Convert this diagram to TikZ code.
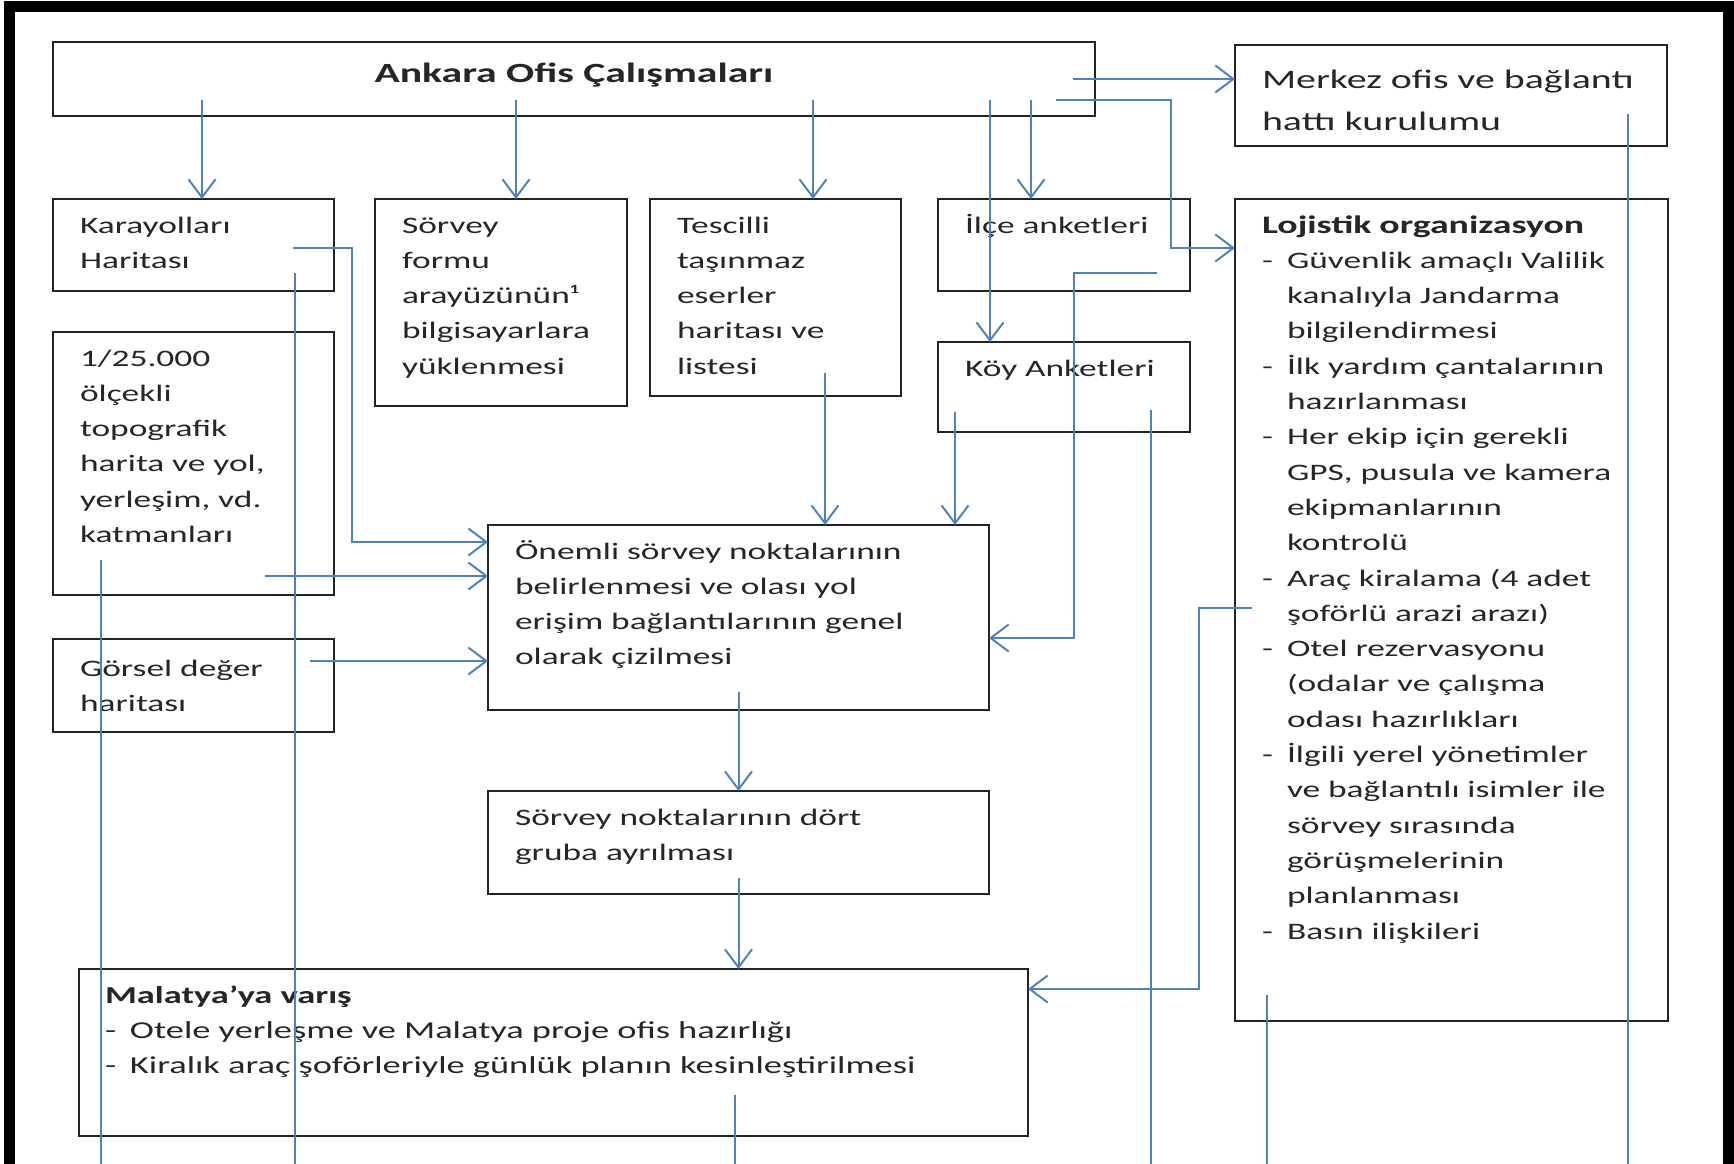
\documentclass[tikz,border=0pt]{standalone}
\usepackage{fontspec}
\setmainfont{Carlito}[FakeStretch=1.5]
\usetikzlibrary{arrows.meta,positioning,calc}
\definecolor{linkblue}{RGB}{79,129,189}
\definecolor{boxgray}{RGB}{35,35,35}
\newcommand{\itemdash}{\makebox[12.5pt][l]{-}}
\newcommand{\itemgap}{\hspace*{12.5pt}}

\begin{document}
\begin{tikzpicture}[x=0.5pt, y=-0.5pt,
    font=\fontsize{11.8pt}{17.65pt}\selectfont,
    box/.style={draw=boxgray, line width=1pt, anchor=north west, align=left, outer sep=0pt,
                inner xsep=13.5pt, inner ysep=0pt, text height=17pt, text=black!85},
    link/.style={draw=linkblue, line width=1pt},
    arrow/.style={link, -{Straight Barb[length=9pt, width=13.5pt]}}]
  \useasboundingbox (0,0) rectangle (1734,1163);
  \clip (0,0) rectangle (1734,1163);
  \draw[line width=5.5pt] (9,1200) |- (1728,6) -- (1728,1200);

  \node[box, align=center, text width=494pt, text height=20pt, text depth=17pt,
        font=\fontsize{13.9pt}{17pt}\selectfont\bfseries] (ankara) at (53,42)
    {Ankara Ofis Çalışmaları};
  \node[box, text width=113.5pt, text depth=29pt,
        below=41.5pt of ankara.south west, anchor=north west] (kara)
    {Karayolları\\Haritası};
  \node[box, text width=99pt, text depth=86.5pt,
        right=20.5pt of kara.north east, anchor=north west] (sform)
    {Sörvey\\formu\\arayüzünün¹\\bilgisayarlara\\yüklenmesi};
  \node[box, text width=98.5pt, text depth=81.5pt,
        right=11.5pt of sform.north east, anchor=north west] (tescil)
    {Tescilli\\taşınmaz\\eserler\\haritası ve\\listesi};
  \node[box, text width=99pt, text depth=29pt,
        right=18.5pt of tescil.north east, anchor=north west] (ilce)
    {İlçe anketleri};
  \node[box, text width=189.5pt, text depth=394pt,
        right=22.5pt of ilce.north east, anchor=north west] (lojistik)
    {{\fontsize{12.6pt}{17.65pt}\selectfont\bfseries Lojistik organizasyon}\\
     \itemdash Güvenlik amaçlı Valilik\\ \itemgap kanalıyla Jandarma\\
     \itemgap bilgilendirmesi\\
     \itemdash İlk yardım çantalarının\\ \itemgap hazırlanması\\
     \itemdash Her ekip için gerekli\\ \itemgap GPS, pusula ve kamera\\
     \itemgap ekipmanlarının\\ \itemgap kontrolü\\
     \itemdash Araç kiralama (4 adet\\ \itemgap şoförlü arazi arazı)\\
     \itemdash Otel rezervasyonu\\ \itemgap (odalar ve çalışma\\
     \itemgap odası hazırlıkları\\
     \itemdash İlgili yerel yönetimler\\ \itemgap ve bağlantılı isimler ile\\
     \itemgap sörvey sırasında\\ \itemgap görüşmelerinin\\
     \itemgap planlanması\\
     \itemdash Basın ilişkileri};
  \node[box, text width=189pt, text height=21.5pt, text depth=29pt,
        font=\fontsize{13.3pt}{21pt}\selectfont,
        above=26.5pt of lojistik.north west, anchor=south west] (merkez)
    {Merkez ofis ve bağlantı\\hattı kurulumu};
  \node[box, text width=99pt, text depth=28pt,
        below=25.5pt of ilce.south west, anchor=north west] (koy)
    {Köy Anketleri};
  \node[box, text width=113.5pt, text depth=114.5pt,
        below=20.5pt of kara.south west, anchor=north west] (topo)
    {1/25.000\\ölçekli\\topografik\\harita ve yol,\\yerleşim, vd.\\katmanları};
  \node[box, text width=113.5pt, text height=18.5pt, text depth=28pt,
        below=22pt of topo.south west, anchor=north west] (gorsel)
    {Görsel değer\\haritası};
  \node[box, text width=223.5pt, text depth=75.5pt,
        below right=59.5pt and 56.5pt of sform.south west, anchor=north west] (onemli)
    {Önemli sörvey noktalarının\\belirlenmesi ve olası yol\\
     erişim bağlantılarının genel\\olarak çizilmesi};
  \node[box, text width=223.5pt, text depth=34.5pt,
        below=40.5pt of onemli.south west, anchor=north west] (sgrup)
    {Sörvey noktalarının dört\\gruba ayrılması};
  \node[box, text width=448.5pt, inner xsep=13pt, text depth=66.5pt,
        font=\fontsize{12.15pt}{17.65pt}\selectfont,
        below right=118.5pt and 13pt of gorsel.south west, anchor=north west] (malatya)
    {\textbf{Malatya’ya varış}\\
     \itemdash Otele yerleşme ve Malatya proje ofis hazırlığı\\
     \itemdash Kiralık araç şoförleriyle günlük planın kesinleştirilmesi};

  % arrows out of the Ankara box
  \foreach \dx/\goal in {149/kara, 463/sform, 760/tescil, 978/ilce, 937/koy} {
    \coordinate (from) at ([shift={(\dx,-16)}]ankara.south west);
    \draw[arrow] (from) -- (from |- \goal.north);
  }
  \coordinate (m0) at ([shift={(-22,37)}]ankara.north east);
  \draw[arrow] (m0) -- (m0 -| merkez.west);
  \draw[arrow] ([shift={(-39,-16)}]ankara.south east) -- ++(115,0)
    |- ([yshift=-24.5pt]lojistik.north west);

  % inputs of the survey point box
  \draw[arrow] ([shift={(-41,3)}]kara.east) -- ++(59,0)
    |- ([yshift=-8.5pt]onemli.north west);
  \coordinate (t0) at ([shift={(-69,-19)}]topo.south east);
  \draw[arrow] (t0) -- (t0 -| onemli.west);
  \coordinate (g0) at ([shift={(-24,22)}]gorsel.north east);
  \draw[arrow] (g0) -- (g0 -| onemli.west);
  \coordinate (e0) at ([shift={(-76,-23)}]tescil.south east);
  \draw[arrow] (e0) -- (e0 |- onemli.north);
  \coordinate (k0) at ([shift={(17,-20)}]koy.south west);
  \draw[arrow] (k0) -- (k0 |- onemli.north);
  \draw[arrow] ([shift={(-33,-18)}]ilce.south east) -- ++(-83,0)
    |- ([yshift=-56.5pt]onemli.north east);

  % down to Malatya
  \draw[arrow] ([yshift=9pt]onemli.south) -- (sgrup.north);
  \coordinate (s0) at ([yshift=8pt]sgrup.south);
  \draw[arrow] (s0) -- (s0 |- malatya.north);
  \draw[arrow] ([shift={(17,-2)}]lojistik.west) -- ++(-53,0)
    |- ([yshift=-10pt]malatya.north east);

  % lines running off the page
  \coordinate (bottom) at (0,1170);
  \foreach \src/\dx/\dy in {topo.south west/48/-35, kara.south east/-39/-18,
      malatya.south west/656/-41, koy.south east/-39/-22,
      lojistik.south west/32/-26, merkez.south east/-39/-32} {
    \coordinate (down) at ([shift={(\dx,\dy)}]\src);
    \draw[link] (down) -- (down |- bottom);
  }
\end{tikzpicture}
\end{document}
